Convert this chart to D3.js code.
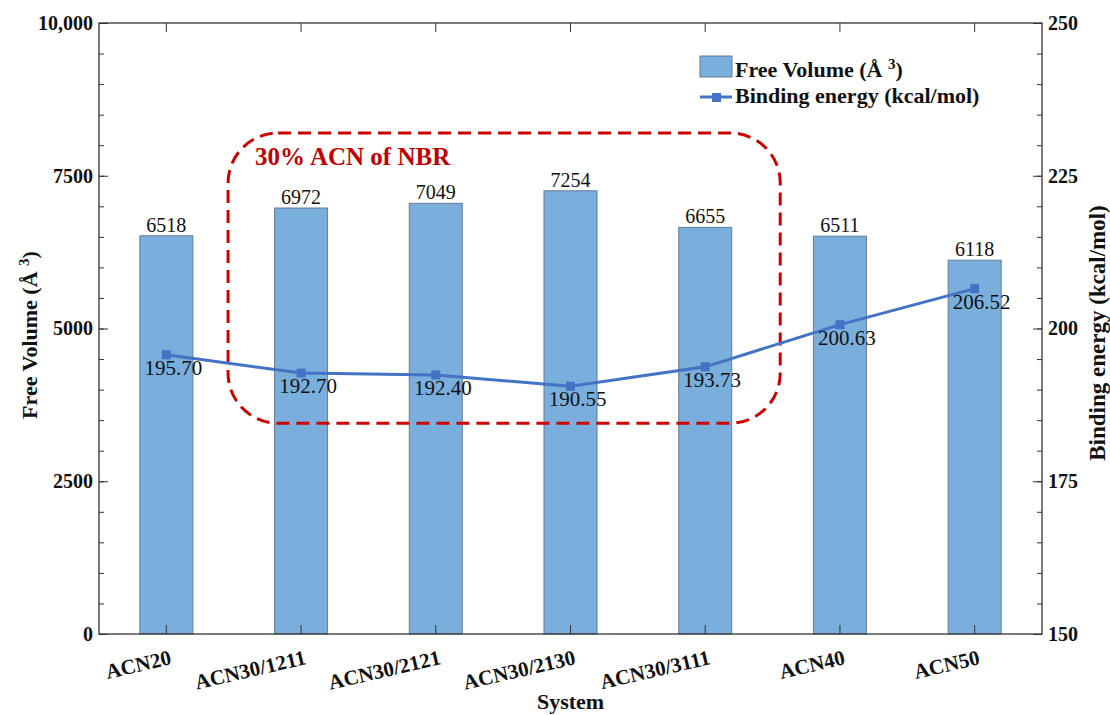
<!DOCTYPE html>
<html>
<head>
<meta charset="utf-8">
<script src="https://cdn.jsdelivr.net/npm/d3@7"></script>
<style>
  body { margin: 0; background: #fff; }
  text { font-family: "Liberation Serif", "Times New Roman", serif; }
</style>
</head>
<body>
<div id="chart"></div>
<script>
// data
const systems = ["ACN20", "ACN30/1211", "ACN30/2121", "ACN30/2130", "ACN30/3111", "ACN40", "ACN50"];
const freeVolume = [6518, 6972, 7049, 7254, 6655, 6511, 6118];
const bindingEnergy = [195.70, 192.70, 192.40, 190.55, 193.73, 200.63, 206.52];
const leftTicks = [0, 2500, 5000, 7500, 10000];
const rightTicks = [150, 175, 200, 225, 250];

const size = {width: 1110, height: 715};
const margin = {top: 23, right: 68, bottom: 81, left: 99};
const width = size.width - margin.left - margin.right;
const height = size.height - margin.top - margin.bottom;

const barColor = "#79aedd";
const barStroke = "#667b92";
const lineColor = "#4472c4";
const axisColor = "#333";

const svg = d3.select("#chart").append("svg")
    .attr("width", size.width)
    .attr("height", size.height);

const g = svg.append("g")
    .attr("transform", "translate(" + margin.left + "," + margin.top + ")");

const xScale = d3.scaleBand().domain(systems).range([0, width]).paddingInner(0).paddingOuter(0);
const xc = d => xScale(d) + xScale.bandwidth() / 2;
const barW = 53;
const yLeft = d3.scaleLinear().domain([0, 10000]).range([height, 0]);
const yRight = d3.scaleLinear().domain([150, 250]).range([height, 0]);

// bars
g.selectAll(".bar")
    .data(systems)
    .join("rect")
    .attr("class", "bar")
    .attr("x", d => xc(d) - barW / 2)
    .attr("width", barW)
    .attr("y", (d, i) => yLeft(freeVolume[i]))
    .attr("height", (d, i) => height - yLeft(freeVolume[i]))
    .attr("fill", barColor)
    .attr("stroke", barStroke)
    .attr("stroke-width", 1);

g.selectAll(".barLabel")
    .data(systems)
    .join("text")
    .attr("class", "barLabel")
    .attr("x", d => xc(d))
    .attr("y", (d, i) => yLeft(freeVolume[i]) - 4)
    .attr("text-anchor", "middle")
    .attr("font-size", 20)
    .attr("fill", "#111")
    .text((d, i) => freeVolume[i]);

// frame + axes
g.append("rect")
    .attr("width", width).attr("height", height)
    .attr("fill", "none").attr("stroke", axisColor).attr("stroke-width", 1.3);

const leftAxis = d3.axisLeft(yLeft).tickValues(leftTicks).tickSize(-9).tickPadding(6)
    .tickFormat(d => d === 10000 ? "10,000" : d);
g.append("g").call(leftAxis)
    .call(a => a.select(".domain").remove())
    .call(a => a.selectAll("line").attr("stroke", axisColor))
    .call(a => a.selectAll("text").attr("font-size", 20).attr("font-weight", "bold").attr("fill", "#111")
        .attr("font-family", "Liberation Serif"));
g.append("g").call(d3.axisLeft(yLeft).tickValues(d3.range(0, 10001, 500)).tickSize(-5).tickFormat(""))
    .call(a => a.select(".domain").remove())
    .call(a => a.selectAll("line").attr("stroke", axisColor));

const rightAxis = d3.axisRight(yRight).tickValues(rightTicks).tickSize(-9).tickPadding(6);
g.append("g").attr("transform", "translate(" + width + ",0)").call(rightAxis)
    .call(a => a.select(".domain").remove())
    .call(a => a.selectAll("line").attr("stroke", axisColor))
    .call(a => a.selectAll("text").attr("font-size", 20).attr("font-weight", "bold").attr("fill", "#111")
        .attr("font-family", "Liberation Serif"));
g.append("g").attr("transform", "translate(" + width + ",0)")
    .call(d3.axisRight(yRight).tickValues(d3.range(150, 251, 5)).tickSize(-5).tickFormat(""))
    .call(a => a.select(".domain").remove())
    .call(a => a.selectAll("line").attr("stroke", axisColor));

g.append("g").attr("transform", "translate(0," + height + ")")
    .call(d3.axisBottom(xScale).tickSize(-9).tickFormat(""))
    .call(a => a.select(".domain").remove())
    .call(a => a.selectAll("line").attr("stroke", axisColor));
g.append("g")
    .call(d3.axisTop(xScale).tickSize(-9).tickFormat(""))
    .call(a => a.select(".domain").remove())
    .call(a => a.selectAll("line").attr("stroke", axisColor));

// x labels, rotated
g.selectAll(".xLabel")
    .data(systems)
    .join("text")
    .attr("class", "xLabel")
    .attr("text-anchor", "end")
    .attr("transform", d => "translate(" + (xc(d) + 6) + "," + (height + 30) + ") rotate(-13)")
    .attr("font-size", 21)
    .attr("font-weight", "bold")
    .attr("fill", "#111")
    .text(d => d);

// dashed annotation box
const boxX0 = xc(systems[1]) - 73;
const boxX1 = xc(systems[4]) + 75;
const boxY0 = yLeft(8200);
const boxY1 = yLeft(3450);
g.append("rect")
    .attr("x", boxX0).attr("y", boxY0)
    .attr("width", boxX1 - boxX0).attr("height", boxY1 - boxY0)
    .attr("rx", 50).attr("ry", 50)
    .attr("fill", "none")
    .attr("stroke", "#cc0000")
    .attr("stroke-width", 3)
    .attr("stroke-dasharray", "13,7");
g.append("text")
    .attr("x", boxX0 + 27).attr("y", boxY0 + 32)
    .attr("font-size", 25).attr("font-weight", "bold")
    .attr("fill", "#c00000")
    .text("30% ACN of NBR");

// binding energy line
const line = d3.line()
    .x((d, i) => xc(systems[i]))
    .y(d => yRight(d));
g.append("path")
    .datum(bindingEnergy)
    .attr("d", line)
    .attr("fill", "none")
    .attr("stroke", lineColor)
    .attr("stroke-width", 3);
g.selectAll(".marker")
    .data(bindingEnergy)
    .join("rect")
    .attr("class", "marker")
    .attr("x", (d, i) => xc(systems[i]) - 4.5)
    .attr("y", d => yRight(d) - 4.5)
    .attr("width", 9).attr("height", 9)
    .attr("fill", lineColor);
g.selectAll(".energyLabel")
    .data(bindingEnergy)
    .join("text")
    .attr("class", "energyLabel")
    .attr("x", (d, i) => xc(systems[i]) + 7)
    .attr("y", d => yRight(d) + 20)
    .attr("text-anchor", "middle")
    .attr("font-size", 21)
    .attr("fill", "#111")
    .text(d => d.toFixed(2));

// axis titles
svg.append("text")
    .attr("transform", "translate(37," + (margin.top + 312) + ") rotate(-90)")
    .attr("text-anchor", "middle")
    .attr("font-size", 22).attr("font-weight", "bold").attr("fill", "#111")
    .html("Free Volume (Å <tspan baseline-shift='super' font-size='15'>3</tspan>)");
svg.append("text")
    .attr("transform", "translate(1105," + (margin.top + 310) + ") rotate(-90)")
    .attr("text-anchor", "middle")
    .attr("font-size", 23).attr("font-weight", "bold").attr("fill", "#111")
    .text("Binding energy (kcal/mol)");
svg.append("text")
    .attr("x", margin.left + width / 2).attr("y", 709)
    .attr("text-anchor", "middle")
    .attr("font-size", 22).attr("font-weight", "bold").attr("fill", "#111")
    .text("System");

// legend
const legend = svg.append("g").attr("transform", "translate(700,56)");
legend.append("rect")
    .attr("width", 32).attr("height", 21)
    .attr("fill", barColor).attr("stroke", barStroke);
legend.append("text")
    .attr("x", 35).attr("y", 21)
    .attr("font-size", 22).attr("font-weight", "bold").attr("fill", "#111")
    .html("Free Volume (Å <tspan baseline-shift='super' font-size='15'>3</tspan>)");
legend.append("line")
    .attr("x1", 0).attr("x2", 32).attr("y1", 41).attr("y2", 41)
    .attr("stroke", lineColor).attr("stroke-width", 3);
legend.append("rect")
    .attr("x", 12).attr("y", 37).attr("width", 9).attr("height", 9)
    .attr("fill", lineColor);
legend.append("text")
    .attr("x", 35).attr("y", 47)
    .attr("font-size", 22).attr("font-weight", "bold").attr("fill", "#111")
    .text("Binding energy (kcal/mol)");
</script>
</body>
</html>
